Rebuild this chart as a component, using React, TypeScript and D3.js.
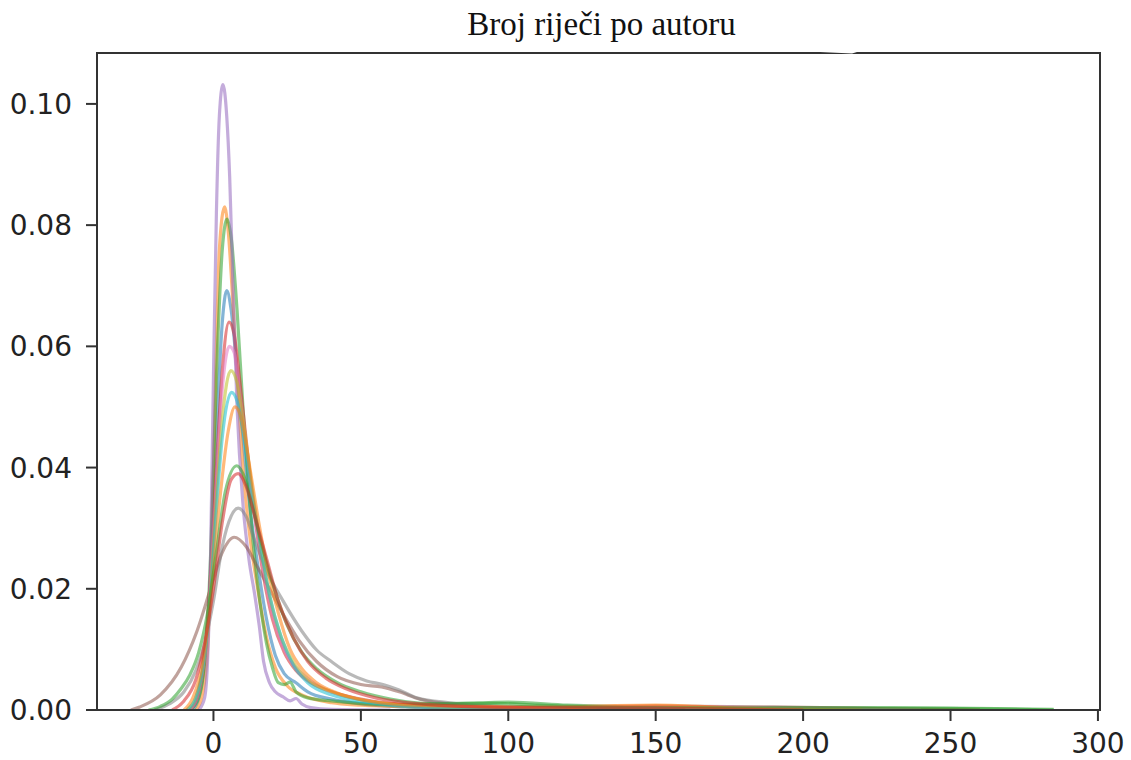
import React from "react";
import * as d3 from "d3";

// ---- data ----
const title = "Broj riječi po autoru";
const xTicks = [0, 50, 100, 150, 200, 250, 300];
const yTicks = [0.0, 0.02, 0.04, 0.06, 0.08, 0.1];
const xDomain = [-39.5, 300.7];
const yDomain = [0, 0.1084];

const seriesBlue: [number, number][] = [[-7,0],[-5,0.002],[-3,0.008],[-1,0.022],[1,0.045],[3,0.064],[4.5,0.0692],[6,0.066],[8,0.056],[10,0.045],[12,0.035],[15,0.024],[18,0.015],[21,0.009],[24,0.006],[28,0.0045],[32,0.003],[40,0.0018],[50,0.001],[65,0.0005],[90,0.0002],[120,0]];
const seriesOrange: [number, number][] = [[-6,0],[-4,0.002],[-2,0.01],[0,0.04],[1,0.06],[2,0.076],[3.8,0.083],[5,0.079],[6.5,0.068],[8,0.055],[10,0.04],[12,0.03],[15,0.02],[18,0.012],[21,0.007],[25,0.004],[30,0.0025],[40,0.0012],[50,0.0008],[70,0.0005],[100,0.0003],[150,0.0007],[180,0.0003],[220,0.0001],[260,0]];
const seriesGreen: [number, number][] = [[-8,0],[-5,0.002],[-3,0.008],[-1,0.025],[1,0.055],[3,0.076],[4.6,0.081],[6,0.078],[8,0.066],[10,0.05],[12,0.036],[14,0.025],[16,0.017],[18,0.011],[20,0.007],[22,0.0045],[24,0.0042],[26,0.0046],[28,0.003],[32,0.002],[40,0.0015],[60,0.0009],[90,0.0012],[100,0.0013],[120,0.0008],[160,0.0004],[200,0.0004],[250,0.0003],[285,0.0001]];
const seriesRed: [number, number][] = [[-8,0],[-5,0.003],[-3,0.009],[-1,0.022],[1,0.04],[3,0.056],[5.3,0.064],[7,0.062],[9,0.054],[11,0.045],[14,0.032],[17,0.022],[20,0.015],[24,0.0095],[28,0.0065],[33,0.0045],[40,0.003],[50,0.0018],[60,0.001],[80,0.0004],[120,0.0002],[160,0]];
const seriesPurple: [number, number][] = [[-5,0],[-3,0.002],[-2,0.008],[-1,0.025],[0,0.055],[1,0.082],[2,0.098],[3.2,0.1032],[4.5,0.098],[5.5,0.088],[6.5,0.072],[8,0.05],[10,0.034],[12,0.025],[14,0.019],[15.5,0.014],[17,0.008],[19,0.0045],[21,0.003],[23.5,0.0022],[26,0.0015],[28,0.0019],[30,0.001],[33,0.0004],[40,0.0001],[60,0]];
const seriesBrown: [number, number][] = [[-28,0],[-25,0.0005],[-18,0.0025],[-11,0.007],[-5.6,0.013],[-1,0.02],[3,0.026],[7,0.0285],[11,0.027],[15,0.0235],[19,0.02],[24,0.0155],[29,0.0115],[35,0.008],[42,0.0055],[50,0.0042],[57,0.0038],[63,0.003],[70,0.0018],[85,0.0008],[110,0.0004],[150,0.0006],[190,0.0005],[230,0.0002],[260,0]];
const seriesPink: [number, number][] = [[-8,0],[-5,0.003],[-3,0.009],[-1,0.021],[1,0.038],[3,0.053],[5.4,0.06],[7,0.059],[9,0.052],[11,0.044],[14,0.032],[17,0.023],[20,0.016],[24,0.01],[28,0.007],[33,0.0048],[40,0.003],[50,0.0017],[60,0.001],[80,0.0005],[150,0.0006],[200,0.0002],[240,0]];
const seriesGray: [number, number][] = [[-20,0],[-15,0.001],[-10,0.003],[-6,0.0065],[-3,0.011],[0,0.018],[3,0.027],[6,0.032],[8.4,0.0333],[11,0.032],[14,0.028],[18,0.023],[23.6,0.018],[30,0.013],[35,0.0099],[40,0.008],[46,0.006],[52,0.0048],[57.5,0.0042],[63,0.0033],[69,0.002],[80,0.0012],[95,0.0007],[120,0.0003],[160,0]];
const seriesOlive: [number, number][] = [[-9,0],[-6,0.002],[-3,0.009],[-1,0.02],[1,0.035],[3,0.048],[5.9,0.056],[8,0.054],[10,0.048],[13,0.037],[16,0.027],[19,0.019],[23,0.012],[27,0.008],[32,0.005],[40,0.003],[50,0.0017],[65,0.0008],[90,0.0003],[130,0]];
const seriesCyan: [number, number][] = [[-9,0],[-6,0.002],[-3,0.009],[-1,0.019],[1,0.033],[3,0.045],[6.1,0.0524],[8,0.051],[10,0.046],[13,0.036],[16,0.027],[19,0.019],[23,0.012],[27,0.0075],[32,0.0045],[40,0.0025],[50,0.0014],[65,0.0006],[90,0.0002],[120,0]];
const seriesOrange2: [number, number][] = [[-10,0],[-7,0.002],[-4,0.007],[-1,0.018],[2,0.034],[5,0.046],[7.3,0.05],[9.5,0.048],[12,0.041],[15,0.032],[18,0.024],[22,0.016],[26,0.01],[30,0.0068],[35,0.0045],[42,0.0028],[50,0.0017],[65,0.0009],[90,0.0006],[110,0.0005],[150,0.0008],[180,0.0003],[220,0]];
const seriesGreen2: [number, number][] = [[-22,0],[-18,0.0006],[-14,0.0018],[-11,0.0035],[-8,0.0058],[-5,0.0095],[-2,0.016],[1,0.026],[4,0.036],[7.9,0.0403],[10,0.039],[13,0.034],[16,0.028],[20,0.021],[25,0.014],[30,0.0095],[35,0.0068],[42,0.0045],[50,0.003],[60,0.0018],[75,0.001],[95,0.0011],[110,0.0008],[140,0.0004],[180,0.0003],[230,0.0003],[285,0]];
const seriesRed2: [number, number][] = [[-14,0],[-10,0.0015],[-6,0.005],[-3,0.011],[0,0.02],[3,0.031],[6,0.038],[8.4,0.039],[11,0.037],[14,0.032],[18,0.025],[22,0.018],[27,0.012],[32,0.008],[38,0.0053],[45,0.0035],[55,0.002],[70,0.001],[100,0.0004],[150,0.0003],[200,0]];

const seriesList = [
  seriesBlue, seriesOrange, seriesGreen, seriesRed, seriesPurple, seriesBrown,
  seriesPink, seriesGray, seriesOlive, seriesCyan, seriesOrange2, seriesGreen2, seriesRed2,
];
const seriesColors = [
  "#1f77b4", "#ff7f0e", "#2ca02c", "#d62728", "#9467bd", "#8c564b",
  "#e377c2", "#7f7f7f", "#bcbd22", "#17becf", "#ff7f0e", "#2ca02c", "#d62728",
];

// ---- layout ----
const W = 1131;
const H = 760;
const left = 97;
const right = 1100;
const top = 53;
const bottom = 710;

export default function App() {
  const x = d3.scaleLinear().domain(xDomain).range([left, right]);
  const y = d3.scaleLinear().domain(yDomain).range([bottom, top]);
  const line = d3
    .line<[number, number]>()
    .x((d) => x(d[0]))
    .y((d) => y(d[1]))
    .curve(d3.curveMonotoneX);

  const tickFont = "'DejaVu Sans', sans-serif";
  return (
    <svg
      width={W}
      height={H}
      style={{ position: "absolute", left: 0, top: 0, background: "#fff" }}
    >
      <defs>
        <clipPath id="plotClip">
          <rect x={left} y={top} width={right - left} height={bottom - top} />
        </clipPath>
      </defs>
      <rect x={0} y={0} width={W} height={H} fill="#fff" />
      <g clipPath="url(#plotClip)">
        {seriesList.map((s, i) => (
          <path
            key={i}
            d={line(s) || ""}
            fill="none"
            stroke={seriesColors[i]}
            strokeOpacity={0.55}
            strokeWidth={3.2}
            strokeLinejoin="round"
          />
        ))}
      </g>
      {/* spines */}
      <rect
        x={left}
        y={top}
        width={right - left}
        height={bottom - top}
        fill="none"
        stroke="#333"
        strokeWidth={2}
      />
      {/* small notch artifact on top spine */}
      <path d="M 820 52 L 852 53.6 L 857 52 Z" fill="#fff" />
      {/* y ticks */}
      {yTicks.map((t) => (
        <g key={"y" + t}>
          <line x1={left - 11} x2={left} y1={y(t)} y2={y(t)} stroke="#333" strokeWidth={2} />
          <text
            x={72}
            y={y(t)}
            dy="0.36em"
            textAnchor="end"
            fontFamily={tickFont}
            fontSize={28}
            fill="#222"
          >
            {t.toFixed(2)}
          </text>
        </g>
      ))}
      {/* x ticks */}
      {xTicks.map((t) => (
        <g key={"x" + t}>
          <line x1={x(t)} x2={x(t)} y1={bottom} y2={bottom + 11} stroke="#333" strokeWidth={2} />
          <text
            x={x(t)}
            y={753}
            textAnchor="middle"
            fontFamily={tickFont}
            fontSize={28}
            fill="#222"
          >
            {t}
          </text>
        </g>
      ))}
      <text
        x={601.5}
        y={35}
        textAnchor="middle"
        fontFamily="'Liberation Serif', 'Times New Roman', serif"
        fontSize={33}
        fill="#111"
      >
        {title}
      </text>
    </svg>
  );
}
